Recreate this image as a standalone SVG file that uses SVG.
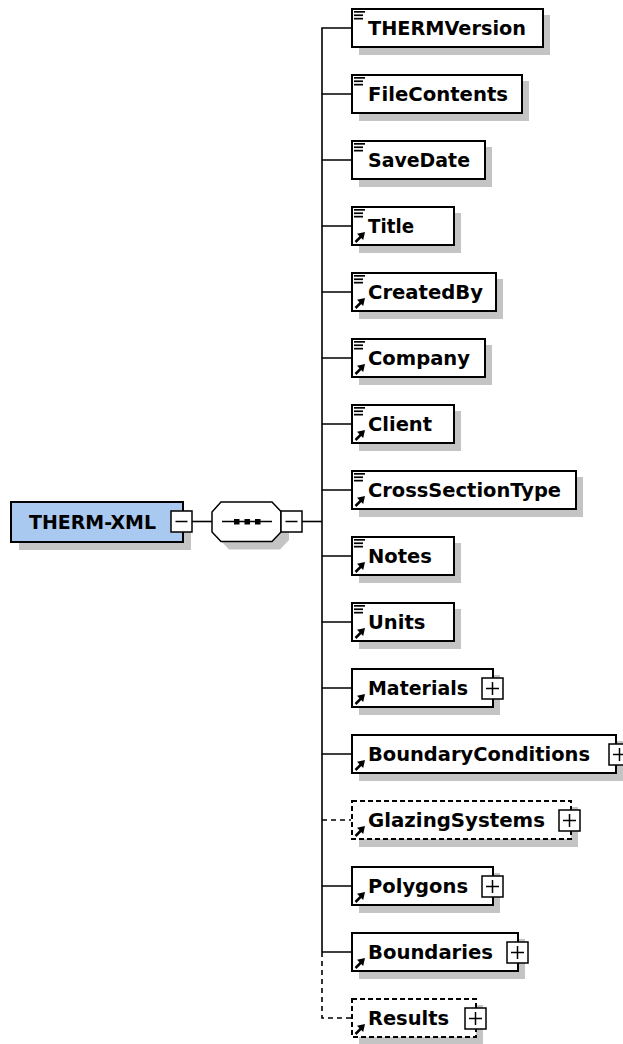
<svg xmlns="http://www.w3.org/2000/svg" width="623" height="1044" viewBox="0 0 623 1044">
<style>
.bg{fill:#ffffff}
.shadow{fill:#c4c4c4}
.box{fill:#ffffff;stroke:#000;stroke-width:2}
.dbox{fill:#ffffff;stroke:#000;stroke-width:2;stroke-dasharray:5,3}
.root{fill:#a9c9f0;stroke:#000;stroke-width:2}
.btn{fill:#ffffff;stroke:#000;stroke-width:1.5}
.sign{stroke:#000;stroke-width:1.5;fill:none}
.conn{stroke:#000;stroke-width:1.6;fill:none}
.dconn{stroke:#000;stroke-width:1.6;fill:none;stroke-dasharray:5,4}
.lbl{font-family:"DejaVu Sans",Verdana,sans-serif;font-weight:bold;font-size:19.5px;fill:#000}
.ico{fill:#000}
</style>
<defs>
<g id="lines">
<rect x="354" y="-17" width="11" height="1.7" class="ico"/>
<rect x="354" y="-13.6" width="9" height="1.7" class="ico"/>
<rect x="354" y="-10.2" width="9" height="1.7" class="ico"/>
</g>
<g id="ref">
<path d="M355.5,16 L361,10.5" stroke="#000" stroke-width="2.5" fill="none"/>
<polygon points="365,6 357,7.8 363.2,14" class="ico"/>
</g>
<g id="plus">
<rect x="0" y="-10" width="21" height="21" class="btn"/>
<path d="M4,0.5 H17 M10.5,-6 V7" class="sign"/>
</g>
</defs>
<rect width="623" height="1044" class="bg"/>

<g id="connectors">
<path d="M192,521.5 H212" class="conn"/>
<path d="M302,521.5 H322" class="conn"/>
<path d="M351,28 H322 V952" class="conn"/>
<path d="M322,94 H351 M322,160 H351 M322,226 H351 M322,292 H351 M322,358 H351 M322,424 H351 M322,490 H351 M322,556 H351 M322,622 H351 M322,688 H351 M322,754 H351 M322,886 H351 M322,952 H351" class="conn"/>
<path d="M322,820 H351" class="dconn"/>
<path d="M322,952 V1018 H351" class="dconn"/>
</g>

<g id="THERM-XML">
<rect x="19" y="510" width="172" height="40" class="shadow"/>
<rect x="11" y="502" width="172" height="40" class="root"/>
<text x="29" y="529" class="lbl" textLength="127" lengthAdjust="spacingAndGlyphs">THERM-XML</text>
<rect x="171" y="511" width="21" height="21" class="btn"/>
<path d="M175.5,521.5 H187.5" class="sign"/>
</g>

<g id="sequence">
<polygon points="220,520 229,510 280,510 289,519.5 289,540 280,549.5 229,549.5 220,540" class="shadow"/>
<polygon points="212,512 221,502 272,502 281,511.5 281,532 272,541.5 221,541.5 212,532" fill="#fff" stroke="#000" stroke-width="1.5"/>
<path d="M222,521.5 H272" class="conn"/>
<rect x="234" y="519" width="5.5" height="5.5" class="ico"/>
<rect x="244.5" y="519" width="5.5" height="5.5" class="ico"/>
<rect x="255" y="519" width="5.5" height="5.5" class="ico"/>
<rect x="281" y="511" width="21" height="21" class="btn"/>
<path d="M285.5,521.5 H297.5" class="sign"/>
</g>

<g id="THERMVersion">
<rect x="359" y="15" width="191" height="40" class="shadow"/>
<rect x="352" y="9" width="191" height="38" class="box"/>
<use href="#lines" transform="translate(0,28)"/>
<text x="368" y="35" class="lbl" textLength="158" lengthAdjust="spacingAndGlyphs">THERMVersion</text>
</g>

<g id="FileContents">
<rect x="359" y="81" width="170" height="40" class="shadow"/>
<rect x="352" y="75" width="170" height="38" class="box"/>
<use href="#lines" transform="translate(0,94)"/>
<text x="368" y="101" class="lbl" textLength="140" lengthAdjust="spacingAndGlyphs">FileContents</text>
</g>

<g id="SaveDate">
<rect x="359" y="147" width="133" height="40" class="shadow"/>
<rect x="352" y="141" width="133" height="38" class="box"/>
<use href="#lines" transform="translate(0,160)"/>
<text x="368" y="167" class="lbl" textLength="102" lengthAdjust="spacingAndGlyphs">SaveDate</text>
</g>

<g id="Title">
<rect x="359" y="213" width="102" height="40" class="shadow"/>
<rect x="352" y="207" width="102" height="38" class="box"/>
<use href="#lines" transform="translate(0,226)"/>
<use href="#ref" transform="translate(0,226)"/>
<text x="368" y="233" class="lbl" textLength="46" lengthAdjust="spacingAndGlyphs">Title</text>
</g>

<g id="CreatedBy">
<rect x="359" y="279" width="144" height="40" class="shadow"/>
<rect x="352" y="273" width="144" height="38" class="box"/>
<use href="#lines" transform="translate(0,292)"/>
<use href="#ref" transform="translate(0,292)"/>
<text x="368" y="299" class="lbl" textLength="115" lengthAdjust="spacingAndGlyphs">CreatedBy</text>
</g>

<g id="Company">
<rect x="359" y="345" width="133" height="40" class="shadow"/>
<rect x="352" y="339" width="133" height="38" class="box"/>
<use href="#lines" transform="translate(0,358)"/>
<use href="#ref" transform="translate(0,358)"/>
<text x="368" y="365" class="lbl" textLength="102" lengthAdjust="spacingAndGlyphs">Company</text>
</g>

<g id="Client">
<rect x="359" y="411" width="102" height="40" class="shadow"/>
<rect x="352" y="405" width="102" height="38" class="box"/>
<use href="#lines" transform="translate(0,424)"/>
<use href="#ref" transform="translate(0,424)"/>
<text x="368" y="431" class="lbl" textLength="64" lengthAdjust="spacingAndGlyphs">Client</text>
</g>

<g id="CrossSectionType">
<rect x="359" y="477" width="224" height="40" class="shadow"/>
<rect x="352" y="471" width="224" height="38" class="box"/>
<use href="#lines" transform="translate(0,490)"/>
<use href="#ref" transform="translate(0,490)"/>
<text x="368" y="497" class="lbl" textLength="193" lengthAdjust="spacingAndGlyphs">CrossSectionType</text>
</g>

<g id="Notes">
<rect x="359" y="543" width="102" height="40" class="shadow"/>
<rect x="352" y="537" width="102" height="38" class="box"/>
<use href="#lines" transform="translate(0,556)"/>
<use href="#ref" transform="translate(0,556)"/>
<text x="368" y="563" class="lbl">Notes</text>
</g>

<g id="Units">
<rect x="359" y="609" width="102" height="40" class="shadow"/>
<rect x="352" y="603" width="102" height="38" class="box"/>
<use href="#lines" transform="translate(0,622)"/>
<use href="#ref" transform="translate(0,622)"/>
<text x="368" y="629" class="lbl">Units</text>
</g>

<g id="Materials">
<rect x="359" y="675" width="141" height="40" class="shadow"/>
<rect x="352" y="669" width="141" height="38" class="box"/>
<use href="#ref" transform="translate(0,688)"/>
<text x="368" y="695" class="lbl" textLength="100" lengthAdjust="spacingAndGlyphs">Materials</text>
<use href="#plus" transform="translate(482,688)"/>
</g>

<g id="BoundaryConditions">
<rect x="359" y="741" width="264" height="40" class="shadow"/>
<rect x="352" y="735" width="264" height="38" class="box"/>
<use href="#ref" transform="translate(0,754)"/>
<text x="368" y="761" class="lbl" textLength="222" lengthAdjust="spacingAndGlyphs">BoundaryConditions</text>
<use href="#plus" transform="translate(609,754)"/>
</g>

<g id="GlazingSystems">
<rect x="359" y="807" width="219" height="40" class="shadow"/>
<rect x="352" y="801" width="219" height="38" class="dbox"/>
<use href="#ref" transform="translate(0,820)"/>
<text x="368" y="827" class="lbl" textLength="177" lengthAdjust="spacingAndGlyphs">GlazingSystems</text>
<use href="#plus" transform="translate(559,820)"/>
</g>

<g id="Polygons">
<rect x="359" y="873" width="141" height="40" class="shadow"/>
<rect x="352" y="867" width="141" height="38" class="box"/>
<use href="#ref" transform="translate(0,886)"/>
<text x="368" y="893" class="lbl" textLength="100" lengthAdjust="spacingAndGlyphs">Polygons</text>
<use href="#plus" transform="translate(482,886)"/>
</g>

<g id="Boundaries">
<rect x="359" y="939" width="166" height="40" class="shadow"/>
<rect x="352" y="933" width="166" height="38" class="box"/>
<use href="#ref" transform="translate(0,952)"/>
<text x="368" y="959" class="lbl" textLength="125" lengthAdjust="spacingAndGlyphs">Boundaries</text>
<use href="#plus" transform="translate(507,952)"/>
</g>

<g id="Results">
<rect x="359" y="1005" width="124" height="40" class="shadow"/>
<rect x="352" y="999" width="124" height="38" class="dbox"/>
<use href="#ref" transform="translate(0,1018)"/>
<text x="368" y="1025" class="lbl" textLength="81" lengthAdjust="spacingAndGlyphs">Results</text>
<use href="#plus" transform="translate(465,1018)"/>
</g>
</svg>
